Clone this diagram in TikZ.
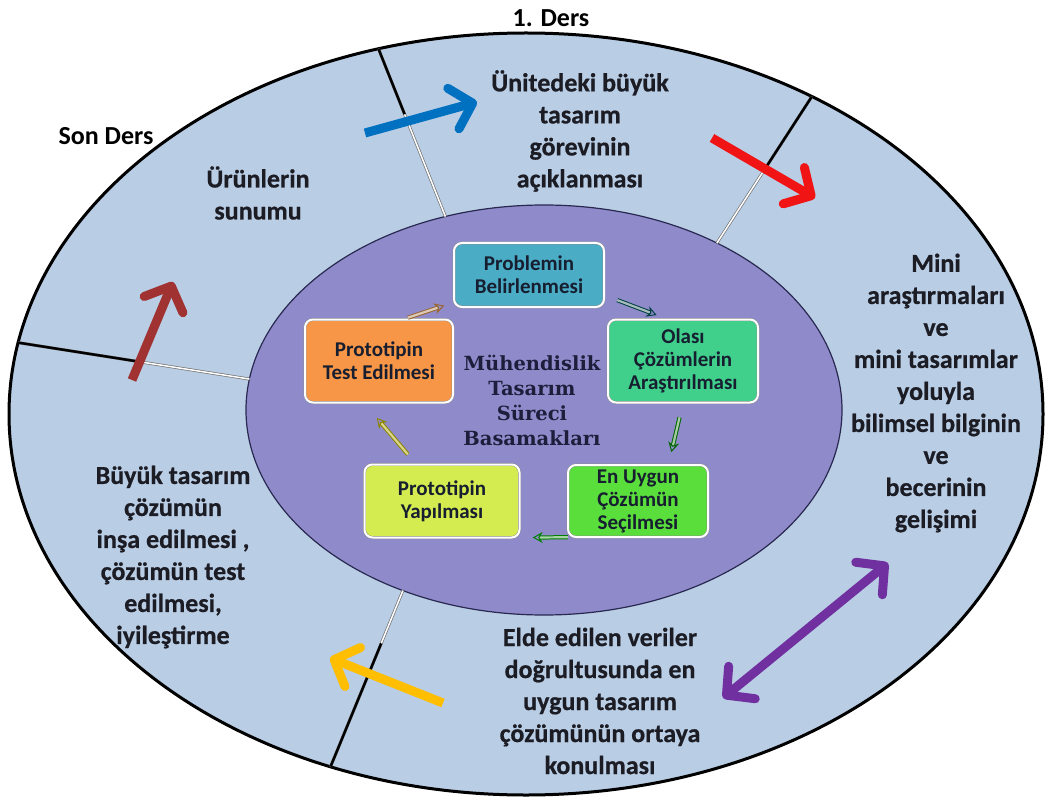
\documentclass[tikz,border=0pt]{standalone}
\usepackage{fontspec}
\setmainfont{Carlito}[BoldFont={Carlito Bold}]
\newfontfamily\ringfont{Carlito Bold}[FakeBold=0.6]
\newfontfamily\titlefont{DejaVu Serif}[BoldFont={DejaVu Serif Bold}]
\usetikzlibrary{positioning,shapes.geometric,arrows.meta,calc}

\definecolor{ringblue}{RGB}{185,205,229}
\definecolor{hubviolet}{RGB}{143,139,203}
\definecolor{hubline}{RGB}{40,40,80}
\definecolor{inktext}{RGB}{28,28,36}
\definecolor{boxink}{RGB}{22,30,48}
\definecolor{titleink}{RGB}{30,30,60}
\definecolor{probteal}{RGB}{75,172,198}
\definecolor{olasigreen}{RGB}{64,208,140}
\definecolor{uygungreen}{RGB}{90,222,60}
\definecolor{yapimyellow}{RGB}{212,236,80}
\definecolor{testorange}{RGB}{247,150,70}
\definecolor{bluearrow}{RGB}{0,112,192}
\definecolor{redarrow}{RGB}{240,20,20}
\definecolor{brownarrow}{RGB}{160,50,50}
\definecolor{yellowarrow}{RGB}{255,190,0}
\definecolor{purplearrow}{RGB}{112,48,160}

\tikzset{
  ringtext/.style={font=\ringfont\fontsize{26}{32}\selectfont, text=inktext, align=center},
  lessontext/.style={font=\bfseries\fontsize{26}{28}\selectfont, text=black},
  stepbox/.style={rounded corners=8pt, draw=black!45, double=white, double distance=2pt,
    inner sep=0pt, align=center, text=boxink, font=\bfseries\fontsize{21}{23}\selectfont},
  divider/.style={draw=black!55, double=white, double distance=1.5pt, line width=0.7pt},
  dividerink/.style={draw=black, line width=2.5pt},
  bigarrow/.style={line width=9pt, -{Straight Barb[length=20pt, width=42pt, round]}},
  steparrow/.style={draw=#1, line width=1pt, double=#1!35, double distance=2.2pt,
    -{Stealth[open, length=10pt, width=11pt]}}
}

\begin{document}
\begin{tikzpicture}[x=1pt, y=-1pt]
  \useasboundingbox (0,0) rectangle (1049,802);

  \node (ring) [ellipse, draw, line width=3pt, fill=ringblue, minimum width=1034pt,
    minimum height=762pt, inner sep=0pt, outer sep=0pt] at (526,414) {};
  \node (hub) [ellipse, draw=hubline, line width=1.2pt, fill=hubviolet, minimum width=596pt,
    minimum height=410pt, inner sep=0pt, outer sep=0pt] at (544,410) {};

  \draw[divider] (ring.112) -- (hub.117);
  \draw[dividerink] (ring.112) -- ($(ring.112)!0.39!(hub.117)$);
  \draw[divider] (ring.48) -- (hub.44);
  \draw[dividerink] (ring.48) -- ($(ring.48)!0.5!(hub.44)$);
  \draw[divider] (ring.172) -- (hub.174);
  \draw[dividerink] (ring.172) -- ($(ring.172)!0.54!(hub.174)$);
  \draw[divider] (ring.241) -- (hub.232);
  \draw[dividerink] (ring.241) -- ($(ring.241)!0.7!(hub.232)$);

  \node (first) [lessontext] at (551,18) {1. Ders};
  \node (last) [lessontext] at (106,136) {Son Ders};

  \node (sunum) [ringtext] at (258,193) {Ürünlerin\\sunumu};
  \node (gorev) [ringtext] at (580,131) {Ünitedeki büyük\\tasarım\\görevinin\\açıklanması};
  \node (mini) [ringtext] at (936,393) {Mini\\araştırmaları\\ve\\mini tasarımlar\\yoluyla\\bilimsel bilginin\\ve\\becerinin\\gelişimi};
  \node (insa) [ringtext] at (173,557) {Büyük tasarım\\çözümün\\inşa edilmesi ,\\çözümün test\\edilmesi,\\iyileştirme};
  \node (elde) [ringtext] at (600,701) {Elde edilen veriler\\doğrultusunda en\\uygun tasarım\\çözümünün ortaya\\konulması};

  \node (title) [align=center, text=titleink, font=\titlefont\bfseries\fontsize{19.5}{25}\selectfont]
    at (532,400) {Mühendislik\\Tasarım\\Süreci\\Basamakları};

  \node (prob) [stepbox, fill=probteal, minimum width=150pt, minimum height=64pt] at (529,275) {Problemin\\Belirlenmesi};
  \node (olasi) [stepbox, fill=olasigreen, minimum width=150pt, minimum height=83pt] at (683,361) {Olası\\Çözümlerin\\Araştırılması};
  \node (uygun) [stepbox, fill=uygungreen, minimum width=140pt, minimum height=72pt] at (638,501) {En Uygun\\Çözümün\\Seçilmesi};
  \node (yapim) [stepbox, fill=yapimyellow, minimum width=155pt, minimum height=73pt] at (442,501) {Prototipin\\Yapılması};
  \node (test) [stepbox, fill=testorange, minimum width=148pt, minimum height=83pt] at (379,361) {Prototipin\\Test Edilmesi};

  \path
    (test.60) edge[steparrow=brown!80!black, shorten <=5pt, shorten >=10pt] (prob.200)
    (prob.-15) edge[steparrow=teal!50!black, shorten <=14pt, shorten >=12pt] (olasi.110)
    (olasi.south) edge[steparrow=green!40!black, shorten <=15pt, shorten >=13pt] (uygun.50)
    (uygun.south west) edge[steparrow=green!50!black, shorten >=13pt] (yapim.south east)
    (yapim.125) edge[steparrow=olive, shorten <=13pt, shorten >=20pt] (test.-110);

  \coordinate (blueA) at (365,133);
  \coordinate (blueB) at (477,102);
  \coordinate (redA) at (712,138);
  \coordinate (redB) at (815,198);
  \coordinate (brownA) at (132,380);
  \coordinate (brownB) at (173,282);
  \coordinate (yellowA) at (443,703);
  \coordinate (yellowB) at (330,658);
  \coordinate (purpleA) at (723,698);
  \coordinate (purpleB) at (888,563);

  \draw[bigarrow, bluearrow] (blueA) -- (blueB);
  \draw[bigarrow, redarrow] (redA) -- (redB);
  \draw[bigarrow, brownarrow] (brownA) -- (brownB);
  \draw[bigarrow, yellowarrow] (yellowA) -- (yellowB);
  \draw[line width=9pt, purplearrow, {Straight Barb[length=20pt, width=42pt, round]}-{Straight Barb[length=20pt, width=42pt, round]}] (purpleA) -- (purpleB);
\end{tikzpicture}
\end{document}
